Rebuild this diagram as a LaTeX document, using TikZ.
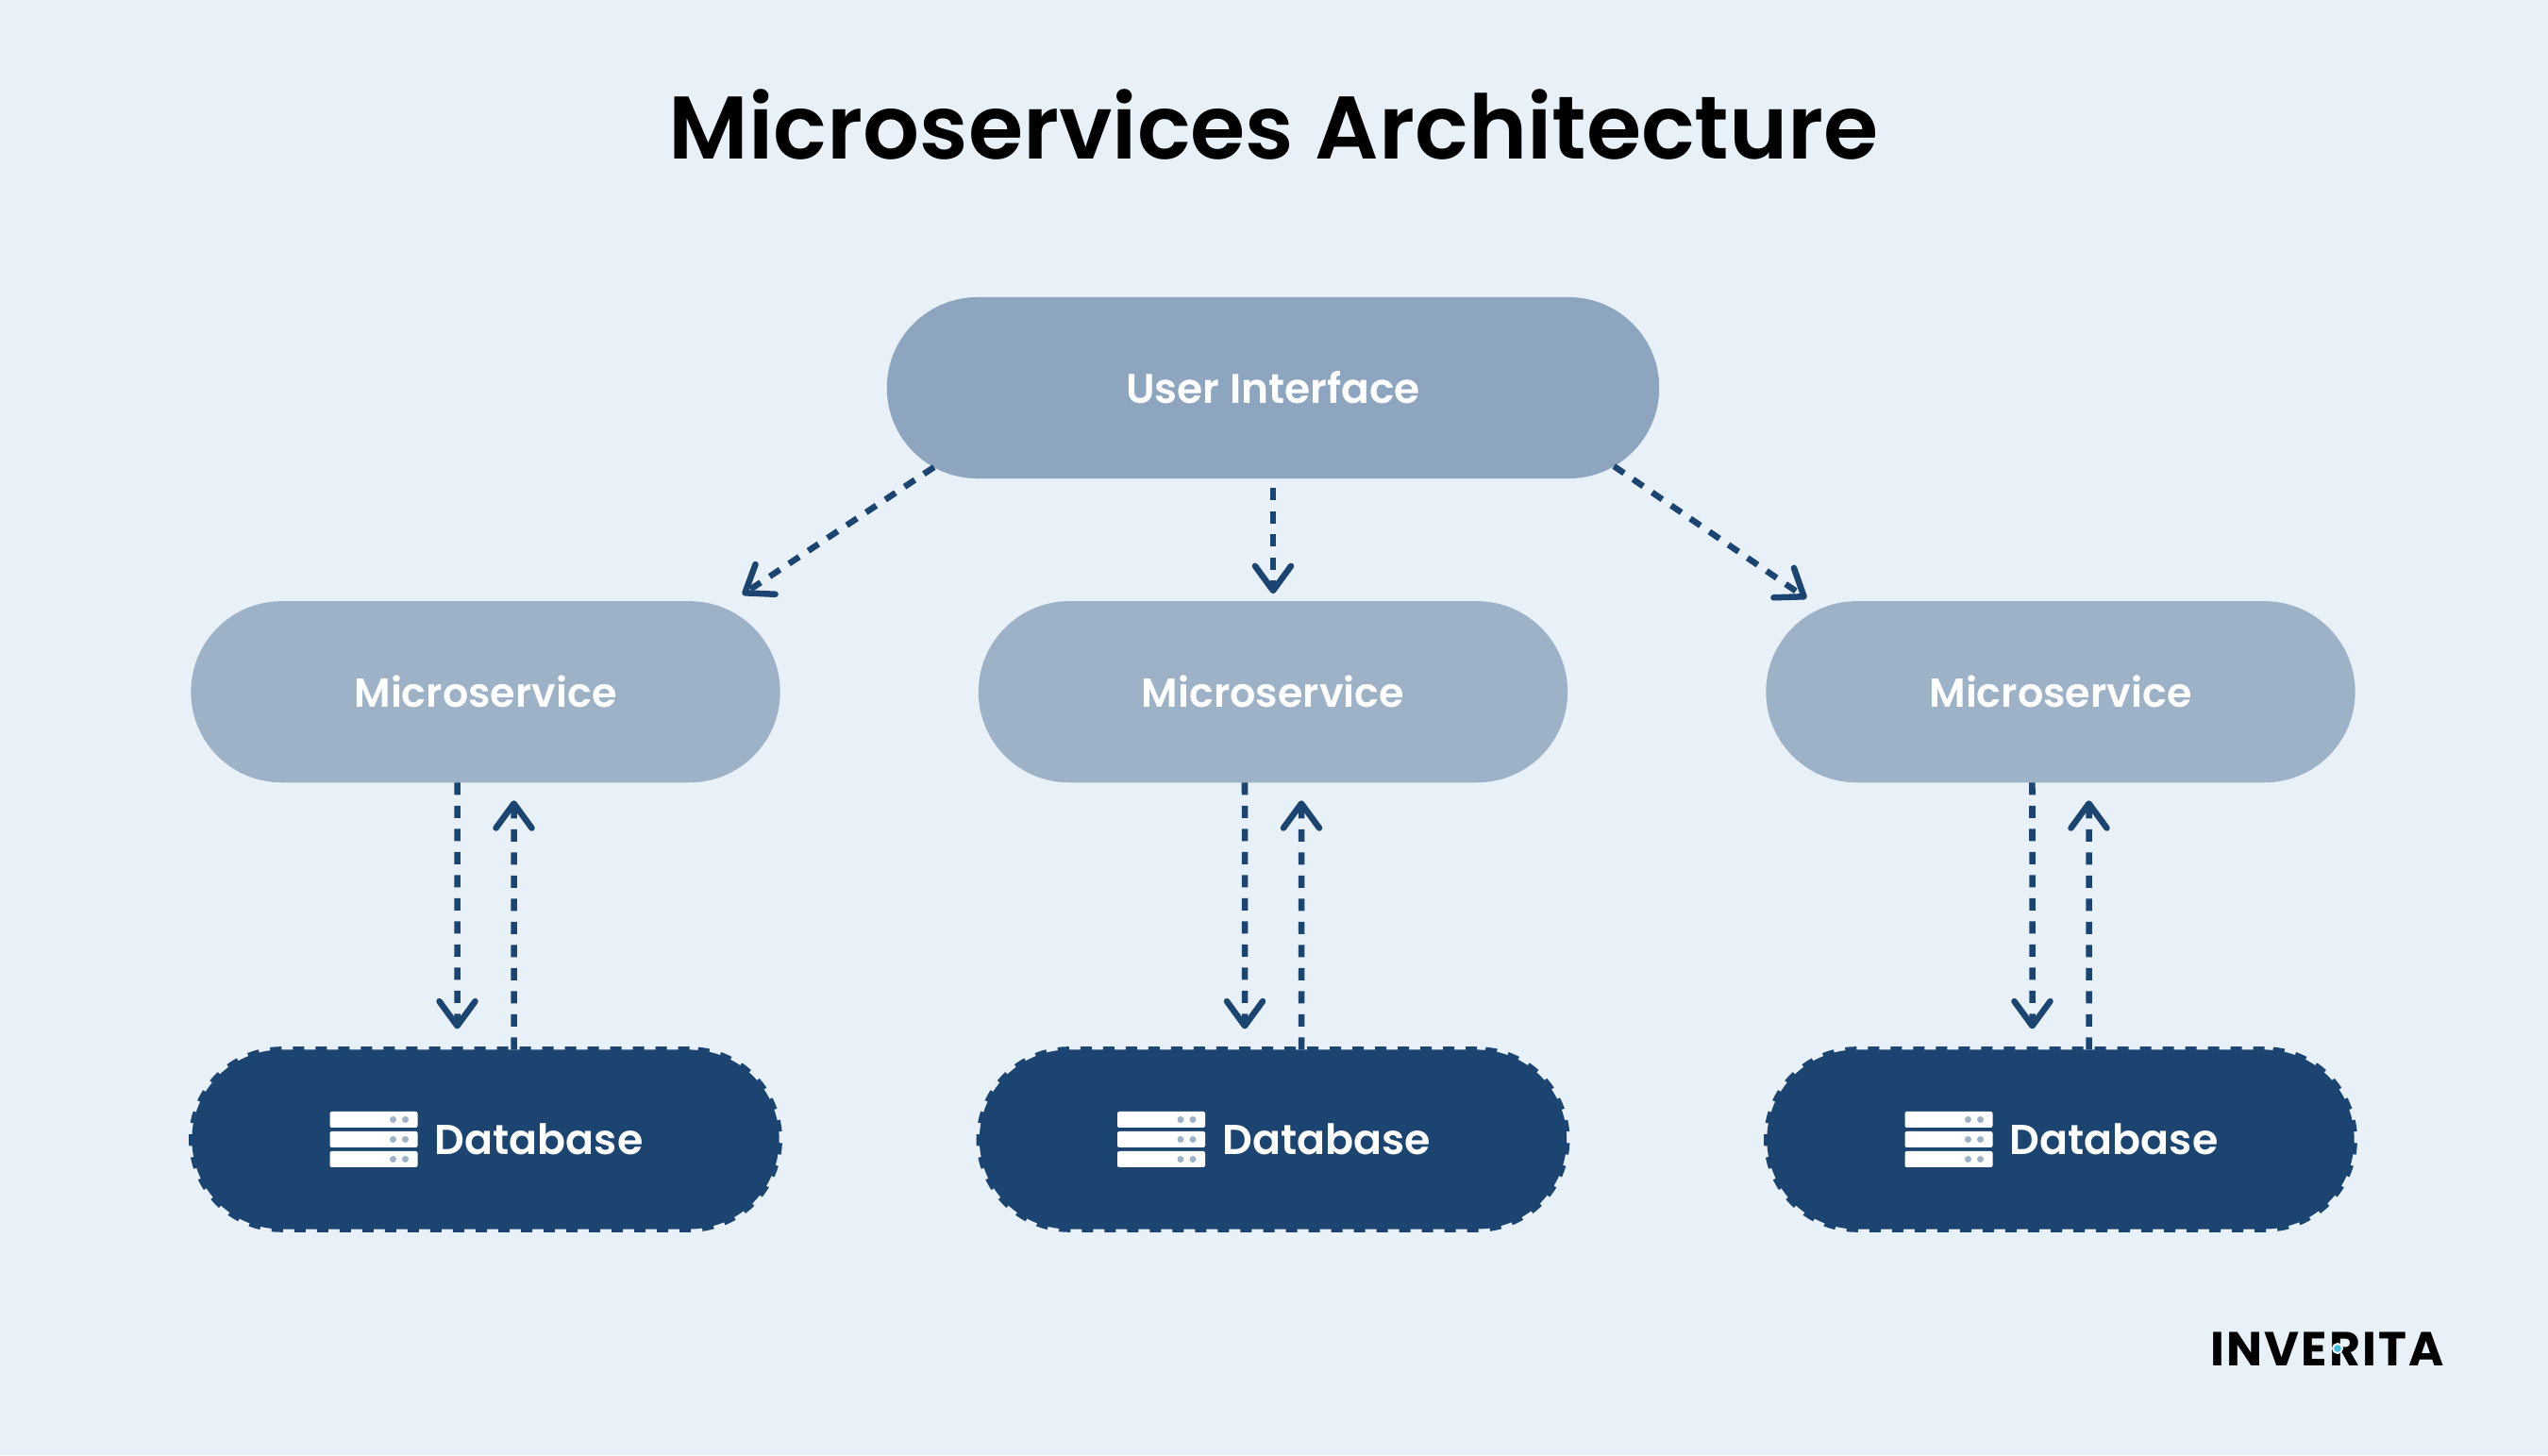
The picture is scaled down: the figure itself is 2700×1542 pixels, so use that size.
\documentclass[tikz,border=0pt]{standalone}
\usepackage{fontspec}
\setmainfont{Poppins}[BoldFont=Poppins SemiBold]
\newfontfamily\logofont{Poppins}[UprightFont=Poppins Bold, LetterSpace=4]
\usetikzlibrary{positioning, arrows.meta}
\definecolor{pagebg}{HTML}{E9F1F8}
\definecolor{uifill}{HTML}{8EA5BF}
\definecolor{msfill}{HTML}{9DB1C7}
\definecolor{navy}{HTML}{1C4470}
\definecolor{dotblue}{HTML}{45BFE0}

\begin{document}
\begin{tikzpicture}[x=0.01cm, y=-0.01cm,
  main/.style = {rectangle, outer sep=0pt, inner sep=0pt, text=white, font=\fontsize{12.2}{14}\selectfont\bfseries},
  uibox/.style = {main, fill=uifill, minimum width=8.18cm, minimum height=1.92cm, rounded corners=0.96cm, font=\fontsize{12.5}{14}\selectfont\bfseries},
  msbox/.style = {main, fill=msfill, minimum width=6.24cm, minimum height=1.92cm, rounded corners=0.96cm},
  dbbox/.style = {main, fill=navy, draw=navy, line width=0.065cm, dash pattern=on 0.12cm off 0.12cm, minimum width=6.22cm, minimum height=1.9cm, rounded corners=0.95cm, font=\fontsize{12.6}{14}\selectfont\bfseries},
  flow/.style = {navy, line width=0.065cm, dash pattern=on 0.13cm off 0.115cm, -{Straight Barb[length=0.26cm, width=0.38cm, round]}},
  bar/.style = {fill=white, rounded corners=0.02cm},
  bardot/.style = {fill=msfill}]
\fill[pagebg] (0,0) rectangle (2700,1542);
\useasboundingbox (0,0) rectangle (2700,1542);

\node (title) at (1350,132) {\fontsize{26.8}{32}\selectfont\bfseries Microservices Architecture};

\node[uibox] (ui) at (1349,411) {User Interface};
\node[msbox] (ms2) [below=1.30cm of ui] {Microservice};
\node[msbox] (ms1) [left=2.10cm of ms2] {Microservice};
\node[msbox] (ms3) [right=2.10cm of ms2] {Microservice};
\node[dbbox] (db2) [below=2.83cm of ms2] {\hspace*{1.13cm}Database};
\node[dbbox] (db1) [below=2.83cm of ms1] {\hspace*{1.13cm}Database};
\node[dbbox] (db3) [below=2.83cm of ms3] {\hspace*{1.13cm}Database};

\node (logo) at (2466,1430) {\fontsize{14.4}{16}\selectfont\logofont INVERITA};
\node[circle, fill=dotblue, draw=pagebg, line width=0.02cm, inner sep=0pt, minimum size=0.1cm] (logodot) at (2477,1429) {};

\draw[flow] ([shift={(50,-12)}]ui.south west) -- ([shift={(-40,-7)}]ms1.north east);
\draw[flow] ([yshift=-0.1cm]ui.south) -- ([yshift=0.08cm]ms2.north);
\draw[flow] ([shift={(-48,-13)}]ui.south east) -- ([shift={(43,-3)}]ms3.north west);

\foreach \n in {1,2,3} {
  \draw[flow] ([xshift=-0.3cm]ms\n.south) -- ([shift={(-30,-22)}]db\n.north);
  \draw[flow] ([xshift=0.3cm]db\n.north) -- ([shift={(30,19)}]ms\n.south);
  \foreach \r in {-21,0,21} {
    \fill[bar] ([shift={(-165,\r-8.5)}]db\n.center) rectangle ([shift={(-72,\r+8.5)}]db\n.center);
    \fill[bardot] ([shift={(-98,\r)}]db\n.center) circle (0.035cm);
    \fill[bardot] ([shift={(-85,\r)}]db\n.center) circle (0.035cm);
  }
}
\end{tikzpicture}
\end{document}
